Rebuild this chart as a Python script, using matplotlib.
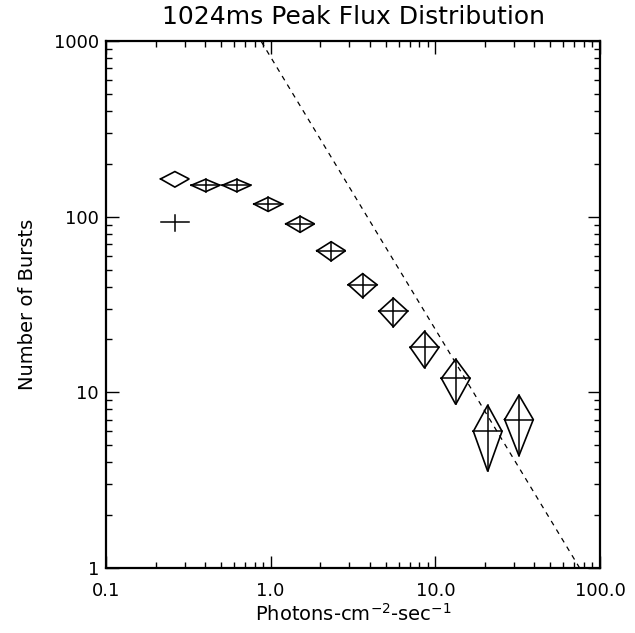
import matplotlib
matplotlib.use("Agg")
import matplotlib.pyplot as plt
import numpy as np
from matplotlib.ticker import FixedLocator, LogLocator, NullFormatter

plt.rcParams['font.family'] = ['DejaVu Sans']

# peak flux bins (photons cm^-2 s^-1) and burst counts
flux = [0.403, 0.622, 0.966, 1.51, 2.33, 3.62, 5.56, 8.6, 13.3, 20.8, 32.2]
counts = [151, 151, 118, 91, 64, 41, 29, 18, 12, 6, 7]

# lowest bin: diamond only, and the cross-only point below it
open_flux = [0.262]
open_counts = [164]
cross_flux = [0.262]
cross_counts = [93]

# reference power law N = norm * S^index
pl_norm = 810.0
pl_index = -1.55

x_ticks = [0.1, 1.0, 10.0, 100.0]
x_ticklabels = ["0.1", "1.0", "10.0", "100.0"]
y_ticks = [1, 10, 100, 1000]
y_ticklabels = ["1", "10", "100", "1000"]

half_width = 0.087  # diamond half width in dex


def diamond(ax, x, y, err):
    xl = x / 10 ** half_width
    xr = x * 10 ** half_width
    ax.plot([xl, x, xr, x, xl], [y, y + err, y, y - err, y],
            color="black", lw=1.2, solid_joinstyle="miter")


def cross(ax, x, y, err):
    ax.plot([x / 10 ** half_width, x * 10 ** half_width], [y, y], color="black", lw=1.1)
    ax.plot([x, x], [y - err, y + err], color="black", lw=1.1)


fig = plt.figure(figsize=(6.35, 6.33), dpi=100)
ax = fig.add_axes([106 / 635, 1 - 568 / 633, 494 / 635, 527 / 633])
ax.set_xscale("log")
ax.set_yscale("log")
ax.set_xlim(0.1, 100)
ax.set_ylim(1, 1000)

for x, y in zip(flux, counts):
    e = np.sqrt(y)
    diamond(ax, x, y, e)
    cross(ax, x, y, e)

for x, y in zip(open_flux, open_counts):
    diamond(ax, x, y, np.sqrt(y) * 1.3)

for x, y in zip(cross_flux, cross_counts):
    cross(ax, x, y, np.sqrt(y))

xs = np.logspace(-1, 2, 200)
ax.plot(xs, pl_norm * xs ** pl_index, color="black", lw=0.9, ls=(0, (4, 4)))

ax.xaxis.set_major_locator(FixedLocator(x_ticks))
ax.set_xticklabels(x_ticklabels)
ax.yaxis.set_major_locator(FixedLocator(y_ticks))
ax.set_yticklabels(y_ticklabels)
ax.xaxis.set_minor_locator(LogLocator(base=10, subs=np.arange(2, 10)))
ax.yaxis.set_minor_locator(LogLocator(base=10, subs=np.arange(2, 10)))
ax.xaxis.set_minor_formatter(NullFormatter())
ax.yaxis.set_minor_formatter(NullFormatter())

ax.tick_params(which="both", direction="in", top=True, right=True, labelsize=13, width=1.0)
ax.tick_params(which="major", length=9, pad=10)
ax.tick_params(which="minor", length=4)
ax.tick_params(axis="y", which="major", pad=5)
for s in ax.spines.values():
    s.set_linewidth(1.6)

ax.set_title("1024ms Peak Flux Distribution", fontsize=18, pad=12)
ax.set_xlabel("Photons-cm$^{-2}$-sec$^{-1}$", fontsize=14, labelpad=2)
ax.set_ylabel("Number of Bursts", fontsize=14, labelpad=12)

fig.savefig("out.png", dpi=100)
